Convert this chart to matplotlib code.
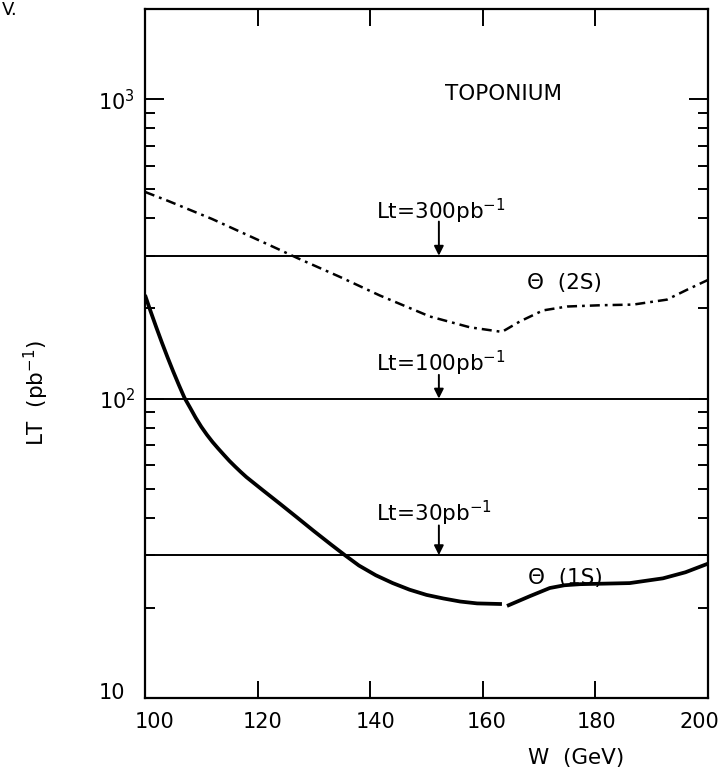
import matplotlib
matplotlib.use("Agg")
import matplotlib.pyplot as plt
import matplotlib.transforms as mtransforms
from matplotlib.ticker import FixedLocator, NullFormatter

plt.rcParams['font.family'] = ['DejaVu Sans']
plt.rcParams['mathtext.default'] = 'regular'
plt.rcParams['lines.scale_dashes'] = False

# theta(2S) curve, dash-dot
w_2s = [100, 104, 111.9, 117, 123.6, 127, 134.6, 141.7, 150.6, 157.7, 163.4,
        166.6, 170.7, 175, 181, 186.7, 192.7, 196.3, 200]
lt_2s = [490, 458, 398, 360, 316, 295, 255, 221, 188, 173, 167,
         181, 197, 203, 205, 206, 214, 231, 249]

# theta(1S) curve, solid, drawn in two pieces (gap near 164 GeV)
w_1s_a = [100, 101, 102, 103, 104, 105, 106, 107, 108, 109, 110, 111, 112,
          113, 114, 115, 116, 117, 118, 121, 124, 127, 130, 133, 135.5,
          138, 141, 144, 147, 150, 153, 156, 159, 163.4]
lt_1s_a = [221.8, 195.4, 173.0, 153.8, 137.4, 123.3, 111.2, 100.7, 93.3, 86.3,
           80.5, 75.7, 71.6, 68.1, 64.9, 61.9, 59.3, 56.9, 54.7, 49.3, 44.5,
           40.1, 36.1, 32.6, 30.0, 27.7, 25.7, 24.2, 23.0, 22.1, 21.5, 21.0,
           20.7, 20.6]
w_1s_b = [164.3, 168.4, 171.9, 174.5, 177.3, 186.1, 192, 196, 200]
lt_1s_b = [20.3, 21.9, 23.3, 23.8, 24.0, 24.2, 25.1, 26.3, 28.1]

# integrated luminosity levels
lumi_levels = [300, 100, 30]
lumi_labels = ['Lt=300pb$^{-1}$', 'Lt=100pb$^{-1}$', 'Lt=30pb$^{-1}$']
label_y = [398, 123, 39]
arrow_top = [390, 120, 37.7]
arrow_w = 152.2

x_ticks = [100, 120, 140, 160, 180, 200]
x_label_shift = [10, 5, 5, 4, 1, -9]  # pixels, as printed in the original

fig = plt.figure(figsize=(7.2, 7.69), dpi=100)
ax = fig.add_axes([0.2014, 0.0923, 0.7819, 0.8960])
ax.set_yscale('log')
ax.set_xlim(100, 200)
ax.set_ylim(10, 2000)

ax.plot(w_2s, lt_2s, color='black', lw=1.8, dashes=[7.2, 3.6, 2.0, 3.6])
ax.plot(w_1s_a, lt_1s_a, color='black', lw=2.7, solid_capstyle='butt')
ax.plot(w_1s_b, lt_1s_b, color='black', lw=2.7, solid_capstyle='butt')

for lv, lab, ly, at in zip(lumi_levels, lumi_labels, label_y, arrow_top):
    ax.axhline(lv, color='black', lw=1.4)
    ax.text(141.0, ly, lab, fontsize=15.5, va='baseline', ha='left')
    ax.annotate('', xy=(arrow_w, lv), xytext=(arrow_w, at),
                arrowprops=dict(arrowstyle='-|>', color='black', lw=1.4,
                                mutation_scale=14, shrinkA=0, shrinkB=0))

ax.text(153.3, 990, 'TOPONIUM', fontsize=15.5, va='baseline', ha='left')
ax.text(167.9, 233, 'Θ  (2S)', fontsize=15.5, va='baseline', ha='left')
ax.text(168.0, 24.0, 'Θ  (1S)', fontsize=15.5, va='baseline', ha='left')

ax.xaxis.set_major_locator(FixedLocator(x_ticks))
ax.set_xticklabels([str(t) for t in x_ticks])
ax.yaxis.set_major_locator(FixedLocator([10, 100, 1000]))
ax.set_yticklabels(['10', '$10^2$', '$10^3$'])
ax.yaxis.set_minor_locator(FixedLocator([m * d for d in (10, 100) for m in range(2, 10)]))
ax.yaxis.set_minor_formatter(NullFormatter())
ax.xaxis.set_minor_locator(FixedLocator([]))

ax.tick_params(axis='x', which='major', direction='in', length=12, width=1.4,
               top=True, bottom=True, labelsize=15, pad=10)
ax.tick_params(axis='y', which='major', direction='in', length=14, width=1.4,
               left=True, right=True, labelsize=15, pad=7)
ax.tick_params(axis='y', which='minor', direction='in', length=7, width=1.4,
               left=True, right=True)
for sp in ax.spines.values():
    sp.set_linewidth(1.6)

for lab, dx in zip(ax.get_xticklabels(), x_label_shift):
    lab.set_transform(lab.get_transform() +
                      mtransforms.ScaledTranslation(dx / 100, 0, fig.dpi_scale_trans))
# the "10" at the bottom of the y axis sits a little higher and further left
ylab10 = ax.get_yticklabels()[0]
ylab10.set_transform(ylab10.get_transform() +
                     mtransforms.ScaledTranslation(-0.1, 0.07, fig.dpi_scale_trans))

fig.text(0.05, 0.489, 'LT  (pb$^{-1}$)', rotation=90, fontsize=15.5,
         ha='center', va='center')
fig.text(0.8, 0.0143, 'W  (GeV)', fontsize=15.5, ha='center', va='center')
fig.text(0.002, 0.999, 'V.', fontsize=13, ha='left', va='top')

fig.savefig('out.png', dpi=100)
